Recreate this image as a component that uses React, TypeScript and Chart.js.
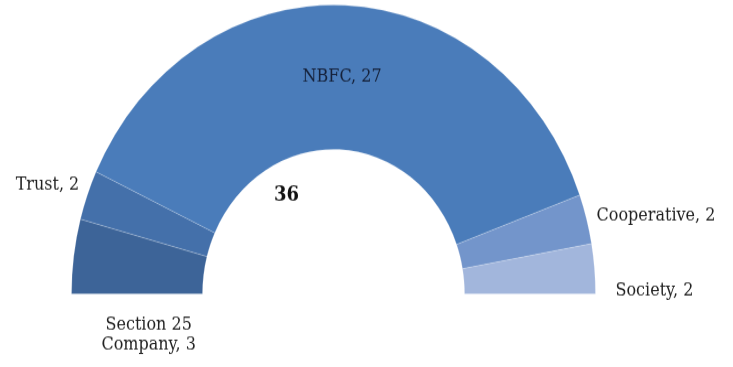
import React, { useEffect, useRef } from "react";
import { Chart, registerables } from "chart.js";

Chart.register(...registerables);

const categories = ["Section 25\nCompany", "Trust", "NBFC", "Cooperative", "Society"];
const values = [3, 2, 27, 2, 2];
const colors = ["#3d6498", "#4470aa", "#4a7cba", "#7395cb", "#a2b6dc"];

// vertical stretch of the reference picture
const SY = 290 / 263;
const W = 733;
const H = Math.round(367 / SY);

// label anchoring relative to each arc: "outer" point or "mid" (centroid)
const placement = [
  { anchor: "mid", align: "center", dx: 10, dy: 63 },
  { anchor: "outer", align: "right", dx: -8, dy: -9 },
  { anchor: "mid", align: "center", dx: 0, dy: 0 },
  { anchor: "outer", align: "left", dx: 10, dy: -3 },
  { anchor: "outer", align: "left", dx: 21, dy: 20 },
];

const FONT = "16px 'DejaVu Serif', 'Liberation Serif', serif";

const labelPlugin = {
  id: "sliceLabels",
  afterDatasetsDraw(chart: any) {
    const ctx = chart.ctx;
    const meta = chart.getDatasetMeta(0);
    ctx.save();
    ctx.textBaseline = "middle";
    let cx = 0, cy = 0;
    meta.data.forEach((arc: any, i: number) => {
      const p = arc.getProps(["x", "y", "startAngle", "endAngle", "innerRadius", "outerRadius"], true);
      cx = p.x; cy = p.y;
      const mid = (p.startAngle + p.endAngle) / 2;
      const pl = placement[i];
      const r = pl.anchor === "outer" ? p.outerRadius : (p.innerRadius + p.outerRadius) / 2;
      const x = p.x + Math.cos(mid) * r + pl.dx;
      const y = p.y + Math.sin(mid) * r + pl.dy;
      const text = `${categories[i]}, ${values[i]}`;
      const lines = text.split("\n");
      ctx.font = FONT;
      ctx.fillStyle = i === 2 ? "#15213a" : "#222222";
      ctx.textAlign = pl.align;
      const lh = 18;
      lines.forEach((ln, k) => {
        ctx.fillText(ln, x, y + (k - (lines.length - 1) / 2) * lh);
      });
    });
    const total = values.reduce((a, b) => a + b, 0);
    ctx.font = "bold 18px 'DejaVu Serif', 'Liberation Serif', serif";
    ctx.fillStyle = "#111111";
    ctx.textAlign = "center";
    ctx.fillText(String(total), cx - 47, cy - 89);
    ctx.restore();
  },
};

export default function App() {
  const ref = useRef<HTMLCanvasElement>(null);
  useEffect(() => {
    const chart = new Chart(ref.current as HTMLCanvasElement, {
      type: "doughnut",
      data: {
        labels: categories,
        datasets: [
          {
            data: values,
            backgroundColor: colors,
            borderColor: "rgba(255,255,255,0.2)",
            borderWidth: 1,
          },
        ],
      },
      options: {
        responsive: false,
        animation: false,
        rotation: -90,
        circumference: 180,
        cutout: "50%",
        layout: { padding: { left: 70, right: 136, top: 4, bottom: 66 } },
        plugins: { legend: { display: false }, tooltip: { enabled: false } },
      },
      plugins: [labelPlugin],
    });
    return () => chart.destroy();
  }, []);
  return (
    <div style={{ position: "fixed", left: 0, top: 0, width: W, height: 367, background: "#fff", overflow: "hidden" }}>
      <canvas
        ref={ref}
        width={W}
        height={H}
        style={{ width: W, height: H, transform: `scaleY(${SY})`, transformOrigin: "0 0", display: "block" }}
      />
    </div>
  );
}
